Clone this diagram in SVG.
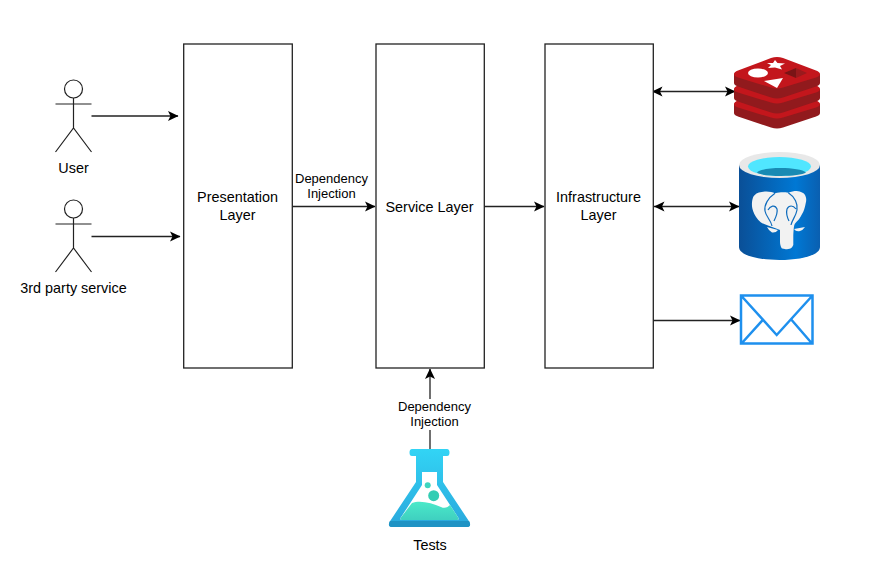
<svg xmlns="http://www.w3.org/2000/svg" width="876" height="586" viewBox="0 0 876 586">
<style>
text{font-family:"Liberation Sans",Arial,sans-serif;font-size:14.400px;fill:#000;text-anchor:middle;stroke:none}
text.s{font-size:13px}
.box{fill:#fff;stroke:#222;stroke-width:1.300}
.c{fill:none;stroke:#222;stroke-width:1.300}
.a{fill:#fff;stroke:#222;stroke-width:1.200}
</style>
<defs>
<marker id="e" markerUnits="userSpaceOnUse" markerWidth="12" markerHeight="12" refX="10" refY="6" orient="auto"><path d="M0,1L10.500,6L0,11L2.500,6Z" fill="#000"/></marker>
<marker id="s" markerUnits="userSpaceOnUse" markerWidth="12" markerHeight="12" refX="0" refY="6" orient="auto"><path d="M10.500,1L0,6L10.500,11L8,6Z" fill="#000"/></marker>
<linearGradient id="pg" x1="0" x2="1" y1="0" y2="0"><stop offset="0" stop-color="#0a4f97"/><stop offset=".7" stop-color="#0078d4"/><stop offset="1" stop-color="#0a5fb0"/></linearGradient>
<linearGradient id="fl" x1="0" x2="0" y1="0" y2="1"><stop offset="0" stop-color="#32d4f5"/><stop offset="1" stop-color="#2aa8dc"/></linearGradient>
<linearGradient id="lq" x1="0" x2="0" y1="0" y2="1"><stop offset="0" stop-color="#4ae9c9"/><stop offset="1" stop-color="#3fd0c0"/></linearGradient>
<g id="rlayer">
<path d="M734 74V83Q734 85 738 86.500L771 97.500Q777 99.500 783 97.500L816 86.500Q820 85 820 83V74Z" fill="#911a1d"/>
<path d="M734 74Q734 72 738 70.500L771 58Q777 56 783 58L816 70.500Q820 72 820 74Q820 76 816 77.500L783 87.500Q777 89.500 771 87.500L738 77.500Q734 76 734 74Z" fill="#c3161c"/>
</g>
</defs>
<g id="connectors">
<path class="c" d="M91.500 116H178" marker-end="url(#e)"/>
<path class="c" d="M91.500 236.500H180" marker-end="url(#e)"/>
<path class="c" d="M292 206.500H375" marker-end="url(#e)"/>
<path class="c" d="M484 206.500H544" marker-end="url(#e)"/>
<path class="c" d="M652 91.500H735" marker-start="url(#s)" marker-end="url(#e)"/>
<path class="c" d="M654 206.500H739" marker-start="url(#s)" marker-end="url(#e)"/>
<path class="c" d="M653 320.500H740" marker-end="url(#e)"/>
<path class="c" d="M430 449V369" marker-end="url(#e)"/>
<rect x="394" y="399" width="79" height="31" fill="#fff"/>
<text class="s" x="331.500" y="183">Dependency</text>
<text class="s" x="331.500" y="198">Injection</text>
<text class="s" x="434.500" y="411">Dependency</text>
<text class="s" x="434.500" y="426">Injection</text>
</g>
<g id="user" class="a">
<circle cx="73.500" cy="89" r="9"/>
<path d="M73.500 98V128M55.500 104H91.500M55.500 152L73.500 128L91.500 152"/>
<text x="73.500" y="173">User</text>
</g>
<g id="third-party" class="a">
<circle cx="73.500" cy="209" r="9"/>
<path d="M73.500 218V248M55.500 224H91.500M55.500 272L73.500 248L91.500 272"/>
<text x="73.500" y="293">3rd party service</text>
</g>
<g id="presentation"><rect class="box" x="183.700" y="44" width="108.600" height="324"/><text x="237.500" y="202">Presentation</text><text x="237.500" y="220">Layer</text></g>
<g id="service"><rect class="box" x="376" y="44" width="108.300" height="324"/><text x="429.500" y="212">Service Layer</text></g>
<g id="infrastructure"><rect class="box" x="545" y="44" width="108.300" height="324"/><text x="598.500" y="202">Infrastructure</text><text x="598.500" y="220">Layer</text></g>
<g id="redis">
<use href="#rlayer" y="30"/>
<use href="#rlayer" y="15"/>
<use href="#rlayer"/>
<ellipse cx="758" cy="73" rx="10" ry="4.500" fill="#fff"/>
<path d="M775 60L777.500 63L785 63.500L780 66L782 69.500L775 67.500L768 68L771 65L767 63L773 63Z" fill="#fff"/>
<path d="M764 81L783 78L777 88Z" fill="#fff"/>
<path d="M784 73L796 68L796 78Z" fill="#7a1416"/>
<path d="M796 68L807 73L796 78Z" fill="#9a1a1d"/>
</g>
<g id="postgres">
<path d="M739 165V247C739 255 757 260 779.500 260S820 255 820 247V165Z" fill="url(#pg)"/>
<ellipse cx="779.500" cy="165" rx="40.500" ry="13" fill="#e8e8e8"/>
<ellipse cx="779.500" cy="166.500" rx="31.500" ry="9.500" fill="#50e6ff"/>
<path d="M757 172.500C762 166.500 800 166.500 806 172.500C800 177 762 177 757 172.500Z" fill="#198ab3"/>
<path d="M753.300 196.700C756 193 759 192 763.300 191.700C768 191 772 192 775 193.300C780 192 784 192 788.300 192.700C791 191.500 794 191 796.700 191C801 191.500 804 193 805 195C806.500 198 806.500 200 805.700 203.300C805 207 804.500 209 803.300 211.700C801 216 800 218 798.300 220C796 222 795 223.500 794.300 225C793.500 229 793.500 232 793.300 235V245C792 248 790 249 788.300 249C785 249.500 783 249 781.700 248.300C780.500 246 780 244 780 241.700V230C776 228 771 227 766.700 225C763 224 760 222 758.300 220C755 216 753 212 752.300 208.300C751.500 204 752 200 753.300 196.700Z" fill="#f2f2f2"/>
<path d="M775 193.300C768 198 764 205 765 211C766 217 771 220 772 226M788.300 192.700C795 197 798 204 797 210C796 216 792 220 791 225M768 210C770 206 775 204 777 209C778 213 776 217 774 221M796 209C793 205 789 205 787 209C786 213 787 217 789 221" fill="none" stroke="#0f6cbd" stroke-width="1.200"/>
<path d="M767 227L778 230Q776 233 772 232.500Q769 231 767 227ZM805 227L794 229Q796 232 800 231Q803 230 805 227Z" fill="#f2f2f2"/>
</g>
<g id="email">
<rect x="741" y="295.500" width="71.500" height="48" fill="#fff"/>
<path d="M741 295.500H812.500V343.500H741ZM741 295.500L776.700 335L812.500 295.500M741.500 343.500L763.300 319.300M812 343.500L791 319.300" fill="none" stroke="#1e90ee" stroke-width="2.500"/>
</g>
<g id="tests">
<path d="M412 449H447Q449.500 449 449.500 452.500Q449.500 456 447 456H443V482L469.500 522Q471.500 527 467 527H392Q387.500 527 389.500 522L416 482V456H412Q409.500 456 409.500 452.500Q409.500 449 412 449Z" fill="url(#fl)"/>
<path d="M390 521H469L469.500 522Q471.500 527 467 527H392Q387.500 527 389.500 522Z" fill="#1f93c4"/>
<path d="M422 472H437V485L458.500 518Q459 520 457 520H402Q400 520 400.500 518L422 485Z" fill="#fff"/>
<path d="M400.500 518L412 503C420 500 432 503 441 507C445 509 448 507 450 505L458.500 518Q459 520 457 520H402Q400 520 400.500 518Z" fill="url(#lq)"/>
<circle cx="427.700" cy="485.300" r="3" fill="#3fd6bf"/>
<circle cx="433.700" cy="495.700" r="5.500" fill="#33cdb3"/>
<text x="430" y="550">Tests</text>
</g>
</svg>
